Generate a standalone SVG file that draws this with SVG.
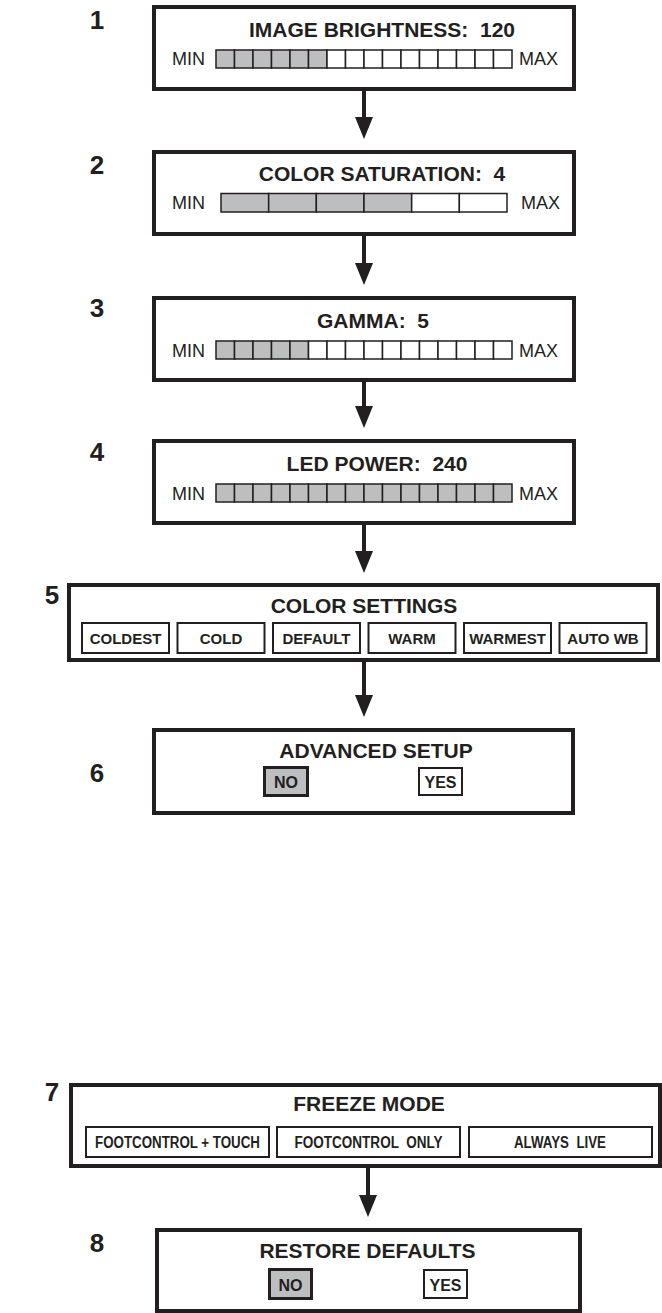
<svg xmlns="http://www.w3.org/2000/svg" width="662" height="1313" viewBox="0 0 662 1313">
<style>
.box{fill:#fff;stroke:#231f20;stroke-width:4}
.seg{fill:#fff;stroke:#231f20;stroke-width:1.5}
.on{fill:#bcbec0}
.btn{fill:#fff;stroke:#231f20;stroke-width:2}
.sel{fill:#bcbec0;stroke:#231f20;stroke-width:3}
.title{font-family:"Liberation Sans",Arial,sans-serif;font-weight:bold;font-size:21px;fill:#231f20;text-anchor:middle;white-space:pre}
.mm{font-family:"Liberation Sans",Arial,sans-serif;font-size:18px;fill:#231f20}
.bt{font-family:"Liberation Sans",Arial,sans-serif;font-weight:bold;font-size:15px;fill:#231f20;text-anchor:middle;white-space:pre}
.num{font-family:"Liberation Sans",Arial,sans-serif;font-weight:bold;font-size:26px;fill:#231f20;text-anchor:middle}
.arrow{stroke:#231f20;stroke-width:4;fill:none;marker-end:url(#ah)}
</style>
<defs>
<marker id="ah" markerUnits="userSpaceOnUse" markerWidth="22" markerHeight="18" refX="2" refY="9" orient="auto">
<path d="M0,0 L22,9 L0,18 Z" fill="#231f20"/>
</marker>
</defs>

<g id="connectors">
<line class="arrow" x1="364" y1="91" x2="364" y2="119"/>
<line class="arrow" x1="364" y1="236" x2="364" y2="265"/>
<line class="arrow" x1="364" y1="382" x2="364" y2="408"/>
<line class="arrow" x1="364" y1="525" x2="364" y2="553"/>
<line class="arrow" x1="364" y1="662" x2="364" y2="697"/>
<line class="arrow" x1="368" y1="1168" x2="368" y2="1197"/>
</g>

<g id="node1">
<text class="num" x="97" y="29">1</text>
<rect class="box" x="154" y="7" width="420" height="82"/>
<text class="title" x="382" y="37" xml:space="preserve">IMAGE BRIGHTNESS:  120</text>
<text class="mm" x="172" y="65">MIN</text>
<text class="mm" x="519" y="65">MAX</text>
<g>
<rect class="seg on" x="216" y="50" width="18.5" height="18"/>
<rect class="seg on" x="234.5" y="50" width="18.5" height="18"/>
<rect class="seg on" x="253" y="50" width="18.5" height="18"/>
<rect class="seg on" x="271.5" y="50" width="18.5" height="18"/>
<rect class="seg on" x="290" y="50" width="18.5" height="18"/>
<rect class="seg on" x="308.5" y="50" width="18.5" height="18"/>
<rect class="seg" x="327" y="50" width="18.5" height="18"/>
<rect class="seg" x="345.5" y="50" width="18.5" height="18"/>
<rect class="seg" x="364" y="50" width="18.5" height="18"/>
<rect class="seg" x="382.5" y="50" width="18.5" height="18"/>
<rect class="seg" x="401" y="50" width="18.5" height="18"/>
<rect class="seg" x="419.5" y="50" width="18.5" height="18"/>
<rect class="seg" x="438" y="50" width="18.5" height="18"/>
<rect class="seg" x="456.5" y="50" width="18.5" height="18"/>
<rect class="seg" x="475" y="50" width="18.5" height="18"/>
<rect class="seg" x="493.5" y="50" width="18.5" height="18"/>
</g>
</g>

<g id="node2">
<text class="num" x="97" y="174">2</text>
<rect class="box" x="154" y="152" width="420" height="82"/>
<text class="title" x="382" y="181" xml:space="preserve">COLOR SATURATION:  4</text>
<text class="mm" x="172" y="209">MIN</text>
<text class="mm" x="521" y="209">MAX</text>
<g>
<rect class="seg on" x="221" y="193.5" width="47.67" height="18.5"/>
<rect class="seg on" x="268.67" y="193.5" width="47.67" height="18.5"/>
<rect class="seg on" x="316.33" y="193.5" width="47.67" height="18.5"/>
<rect class="seg on" x="364" y="193.5" width="47.67" height="18.5"/>
<rect class="seg" x="411.67" y="193.5" width="47.67" height="18.5"/>
<rect class="seg" x="459.33" y="193.5" width="47.67" height="18.5"/>
</g>
</g>

<g id="node3">
<text class="num" x="97" y="317">3</text>
<rect class="box" x="154" y="298" width="420" height="82"/>
<text class="title" x="373" y="328" xml:space="preserve">GAMMA:  5</text>
<text class="mm" x="172" y="357">MIN</text>
<text class="mm" x="519" y="357">MAX</text>
<g>
<rect class="seg on" x="216" y="341" width="18.5" height="18"/>
<rect class="seg on" x="234.5" y="341" width="18.5" height="18"/>
<rect class="seg on" x="253" y="341" width="18.5" height="18"/>
<rect class="seg on" x="271.5" y="341" width="18.5" height="18"/>
<rect class="seg on" x="290" y="341" width="18.5" height="18"/>
<rect class="seg" x="308.5" y="341" width="18.5" height="18"/>
<rect class="seg" x="327" y="341" width="18.5" height="18"/>
<rect class="seg" x="345.5" y="341" width="18.5" height="18"/>
<rect class="seg" x="364" y="341" width="18.5" height="18"/>
<rect class="seg" x="382.5" y="341" width="18.5" height="18"/>
<rect class="seg" x="401" y="341" width="18.5" height="18"/>
<rect class="seg" x="419.5" y="341" width="18.5" height="18"/>
<rect class="seg" x="438" y="341" width="18.5" height="18"/>
<rect class="seg" x="456.5" y="341" width="18.5" height="18"/>
<rect class="seg" x="475" y="341" width="18.5" height="18"/>
<rect class="seg" x="493.5" y="341" width="18.5" height="18"/>
</g>
</g>

<g id="node4">
<text class="num" x="97" y="461">4</text>
<rect class="box" x="154" y="441" width="420" height="82"/>
<text class="title" x="377" y="471" xml:space="preserve">LED POWER:  240</text>
<text class="mm" x="172" y="500">MIN</text>
<text class="mm" x="519" y="500">MAX</text>
<g>
<rect class="seg on" x="216" y="484" width="18.5" height="18"/>
<rect class="seg on" x="234.5" y="484" width="18.5" height="18"/>
<rect class="seg on" x="253" y="484" width="18.5" height="18"/>
<rect class="seg on" x="271.5" y="484" width="18.5" height="18"/>
<rect class="seg on" x="290" y="484" width="18.5" height="18"/>
<rect class="seg on" x="308.5" y="484" width="18.5" height="18"/>
<rect class="seg on" x="327" y="484" width="18.5" height="18"/>
<rect class="seg on" x="345.5" y="484" width="18.5" height="18"/>
<rect class="seg on" x="364" y="484" width="18.5" height="18"/>
<rect class="seg on" x="382.5" y="484" width="18.5" height="18"/>
<rect class="seg on" x="401" y="484" width="18.5" height="18"/>
<rect class="seg on" x="419.5" y="484" width="18.5" height="18"/>
<rect class="seg on" x="438" y="484" width="18.5" height="18"/>
<rect class="seg on" x="456.5" y="484" width="18.5" height="18"/>
<rect class="seg on" x="475" y="484" width="18.5" height="18"/>
<rect class="seg on" x="493.5" y="484" width="18.5" height="18"/>
</g>
</g>

<g id="node5">
<text class="num" x="52" y="604">5</text>
<rect class="box" x="69" y="585" width="589" height="75"/>
<text class="title" x="364" y="613">COLOR SETTINGS</text>
<rect class="btn" x="82" y="623" width="87" height="30"/>
<text class="bt" x="125.5" y="644">COLDEST</text>
<rect class="btn" x="177.5" y="623" width="87" height="30"/>
<text class="bt" x="221" y="644">COLD</text>
<rect class="btn on" x="273" y="623" width="87" height="30"/>
<text class="bt" x="316.5" y="644">DEFAULT</text>
<rect class="btn" x="368.5" y="623" width="87" height="30"/>
<text class="bt" x="412" y="644">WARM</text>
<rect class="btn" x="464" y="623" width="87" height="30"/>
<text class="bt" x="507.5" y="644">WARMEST</text>
<rect class="btn" x="559.5" y="623" width="87" height="30"/>
<text class="bt" x="603" y="644">AUTO WB</text>
</g>

<g id="node6">
<text class="num" x="97" y="782">6</text>
<rect class="box" x="154" y="730" width="419" height="83"/>
<text class="title" x="376" y="758">ADVANCED SETUP</text>
<rect class="sel" x="264.5" y="767.5" width="43" height="28"/>
<text class="bt" x="286" y="788" style="font-size:16px">NO</text>
<rect class="btn" x="419" y="768" width="43" height="27"/>
<text class="bt" x="440.5" y="788" style="font-size:16px">YES</text>
</g>

<g id="node7">
<text class="num" x="52" y="1101">7</text>
<rect class="box" x="71" y="1085" width="589" height="81"/>
<text class="title" x="369" y="1111">FREEZE MODE</text>
<rect class="btn on" x="86" y="1127" width="183" height="30"/>
<text class="bt" x="177.5" y="1148" style="font-size:16px" textLength="165" lengthAdjust="spacingAndGlyphs">FOOTCONTROL + TOUCH</text>
<rect class="btn" x="277" y="1127" width="183" height="30"/>
<text class="bt" x="368.5" y="1148" style="font-size:16px" textLength="148" lengthAdjust="spacingAndGlyphs" xml:space="preserve">FOOTCONTROL  ONLY</text>
<rect class="btn" x="469" y="1127" width="183" height="30"/>
<text class="bt" x="560" y="1148" style="font-size:16px" textLength="92" lengthAdjust="spacingAndGlyphs" xml:space="preserve">ALWAYS  LIVE</text>
</g>

<g id="node8">
<text class="num" x="97" y="1252">8</text>
<rect class="box" x="157" y="1230" width="423" height="81"/>
<text class="title" x="367.5" y="1258">RESTORE DEFAULTS</text>
<rect class="sel" x="269.5" y="1269.5" width="42" height="29"/>
<text class="bt" x="290.5" y="1291" style="font-size:16px">NO</text>
<rect class="btn" x="424" y="1270" width="43" height="28"/>
<text class="bt" x="445.5" y="1291" style="font-size:16px">YES</text>
</g>
</svg>
